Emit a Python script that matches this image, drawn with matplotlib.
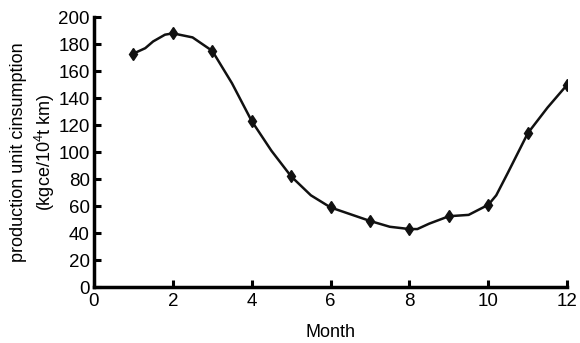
import matplotlib
matplotlib.use("Agg")
import matplotlib.pyplot as plt

plt.rcParams['font.family'] = ['Liberation Sans', 'DejaVu Sans']
plt.rcParams['mathtext.fontset'] = 'custom'
plt.rcParams['mathtext.rm'] = 'Liberation Sans'

# marker values (monthly)
months = [1, 2, 3, 4, 5, 6, 7, 8, 9, 10, 11, 12]
consumption = [173, 188, 175, 123, 82, 59, 49, 43, 52.5, 61, 114, 150]

# curve trace
curve_x = [1, 1.3, 1.5, 1.8, 2, 2.5, 3, 3.5, 4, 4.5, 5, 5.5, 6, 6.5, 7, 7.5, 8,
           8.2, 8.5, 9, 9.5, 10, 10.2, 10.5, 11, 11.5, 12]
curve_y = [173, 177, 182, 187, 188, 185, 175, 151, 123, 101, 82, 68, 59, 54, 49,
           44.7, 43, 43, 47, 52.5, 53.5, 61, 68, 85, 114, 133, 150]

xticks = [0, 2, 4, 6, 8, 10, 12]
yticks = [0, 20, 40, 60, 80, 100, 120, 140, 160, 180, 200]

fig = plt.figure(figsize=(5.8, 3.43), dpi=100)
ax = fig.add_axes([0.162, 0.163, 0.816, 0.787])

ax.plot(curve_x, curve_y, color='#111111', lw=1.8, zorder=2)
ax.plot(months, consumption, linestyle='none', marker='d', markersize=6,
        color='#111111', zorder=3)

ax.set_xlim(0, 12)
ax.set_ylim(0, 200)
ax.set_xticks(xticks)
ax.set_yticks(yticks)
ax.tick_params(direction='in', length=5, width=2.2, labelsize=13.5)
ax.tick_params(axis='x', pad=4)
ax.tick_params(axis='y', pad=3)
for s in ['top', 'right']:
    ax.spines[s].set_visible(False)
for s in ['left', 'bottom']:
    ax.spines[s].set_linewidth(2.5)

ax.set_xlabel('Month', fontsize=13, labelpad=10)
ax.set_ylabel('production unit cinsumption\n(kgce/10$^4$t km)', fontsize=13,
              labelpad=1, linespacing=1.3)

fig.savefig('out.png', dpi=100)
